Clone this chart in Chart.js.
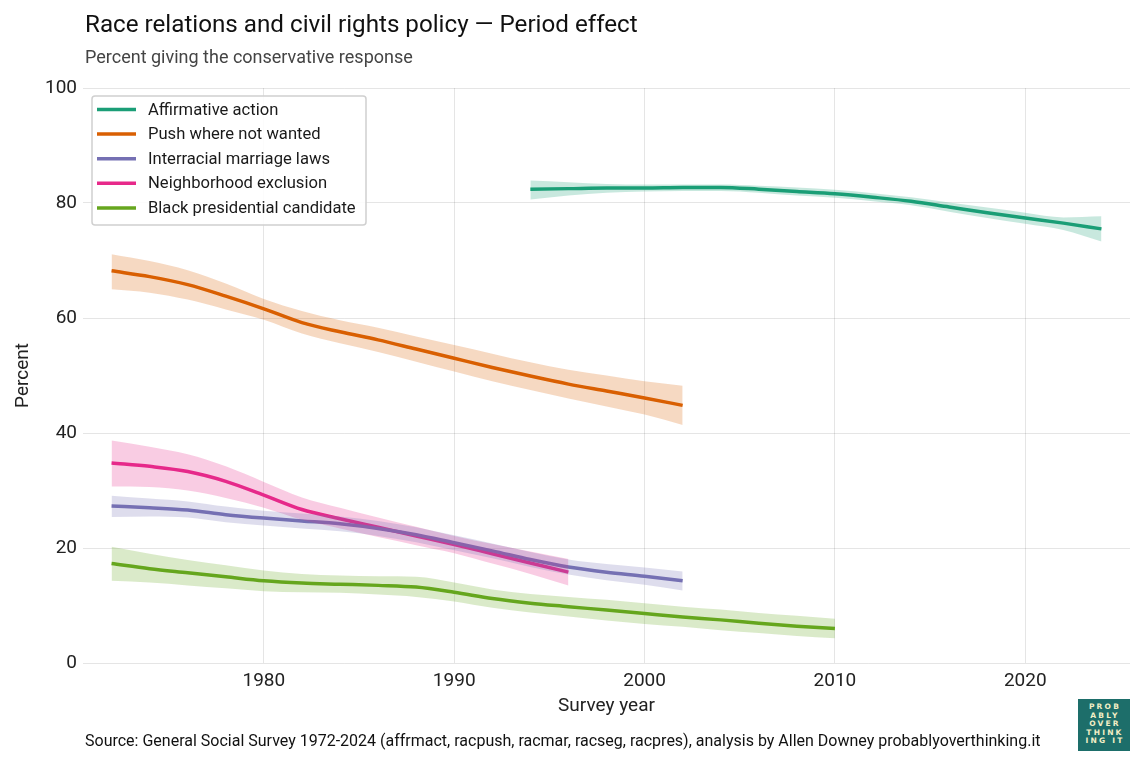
<!DOCTYPE html>
<html>
<head>
<meta charset="utf-8">
<script src="https://cdn.jsdelivr.net/npm/chart.js@4.4.1/dist/chart.umd.min.js"></script>
<style>
  body { margin: 0; background: #fff; }
  #wrap { position: relative; width: 1145px; height: 766px; overflow: hidden; font-family: Roboto, "Noto Sans", sans-serif; }
  #c { position: absolute; left: 0; top: 0; }
  #title { position: absolute; left: 85px; top: 10px; font-size: 24.2px; color: #111; white-space: nowrap; }
  #subtitle { position: absolute; left: 85px; top: 46px; font-size: 18px; color: #444; white-space: nowrap; }
  #source { position: absolute; left: 85px; top: 731px; font-size: 16px; color: #111; white-space: nowrap; }
  #logo { position: absolute; left: 1078px; top: 699px; width: 52px; height: 52px; background: #1d6e6a;
          color: #f3efc6; font-family: "DejaVu Sans", sans-serif; font-weight: bold; font-size: 7.5px;
          line-height: 8.6px; letter-spacing: 2.2px; text-align: center; box-sizing: border-box; padding-top: 4px; padding-left: 2px; }
</style>
</head>
<body>
<div id="wrap">
  <canvas id="c" width="1145" height="766"></canvas>
  <div id="title">Race relations and civil rights policy — Period effect</div>
  <div id="subtitle">Percent giving the conservative response</div>
  <div id="source">Source: General Social Survey 1972-2024 (affrmact, racpush, racmar, racseg, racpres), analysis by Allen Downey probablyoverthinking.it</div>
  <div id="logo">PROB<br>ABLY<br>OVER<br>THINK<br>ING IT</div>
</div>
<script>
// ---- Data ----
const seriesNames = ["Affirmative action", "Push where not wanted", "Interracial marriage laws", "Neighborhood exclusion", "Black presidential candidate"];

const affYears = [1994, 1996, 1998, 2000, 2002, 2004, 2006, 2008, 2010, 2012, 2014, 2016, 2018, 2020, 2022, 2024];
const affMid   = [82.4, 82.5, 82.6, 82.6, 82.7, 82.7, 82.4, 82.0, 81.6, 81.0, 80.3, 79.3, 78.3, 77.4, 76.5, 75.5];
const affHigh  = [83.9, 83.6, 83.3, 83.2, 83.2, 83.2, 83.0, 82.7, 82.3, 81.7, 81.0, 80.1, 79.2, 78.3, 77.5, 77.7];
const affLow   = [80.6, 81.3, 81.8, 82.0, 82.1, 82.1, 81.8, 81.3, 80.9, 80.3, 79.6, 78.5, 77.4, 76.4, 75.3, 73.3];

const pushYears = [1972, 1974, 1976, 1978, 1980, 1982, 1984, 1986, 1988, 1990, 1992, 1994, 1996, 1998, 2000, 2002];
const pushMid   = [68.2, 67.2, 65.8, 63.8, 61.6, 59.2, 57.6, 56.2, 54.6, 53.0, 51.4, 49.9, 48.5, 47.3, 46.1, 44.8];
const pushHigh  = [71.1, 69.9, 68.3, 66.0, 63.3, 61.2, 59.6, 58.3, 56.8, 55.3, 53.8, 52.3, 51.0, 50.0, 49.0, 48.2];
const pushLow   = [65.0, 64.4, 63.2, 61.5, 59.7, 57.3, 55.6, 54.1, 52.4, 50.7, 49.0, 47.5, 46.0, 44.6, 43.2, 41.4];

const marYears = [1972, 1974, 1976, 1978, 1980, 1982, 1984, 1986, 1988, 1990, 1992, 1994, 1996, 1998, 2000, 2002];
const marMid   = [27.3, 27.0, 26.6, 25.8, 25.2, 24.7, 24.2, 23.4, 22.3, 20.9, 19.5, 18.0, 16.7, 15.8, 15.1, 14.3];
const marHigh  = [29.1, 28.6, 28.1, 27.2, 26.5, 26.0, 25.5, 24.7, 23.6, 22.2, 20.8, 19.3, 18.0, 17.2, 16.6, 15.9];
const marLow   = [25.4, 25.5, 25.3, 24.5, 23.9, 23.4, 22.9, 22.1, 21.0, 19.6, 18.2, 16.7, 15.4, 14.4, 13.6, 12.6];

const segYears = [1972, 1974, 1976, 1978, 1980, 1982, 1984, 1986, 1988, 1990, 1992, 1994, 1996];
const segMid   = [34.8, 34.2, 33.3, 31.6, 29.2, 26.7, 25.1, 23.6, 22.1, 20.6, 19.0, 17.4, 15.8];
const segHigh  = [38.7, 37.6, 36.3, 34.2, 31.5, 28.8, 27.0, 25.3, 23.7, 22.1, 20.7, 19.4, 18.1];
const segLow   = [30.7, 30.6, 30.0, 28.7, 27.0, 24.9, 23.4, 21.9, 20.5, 19.1, 17.3, 15.5, 13.5];

const presYears = [1972, 1974, 1976, 1978, 1980, 1982, 1984, 1986, 1988, 1990, 1992, 1994, 1996, 1998, 2000, 2002, 2004, 2006, 2008, 2010];
const presMid   = [17.3, 16.4, 15.7, 15.0, 14.3, 13.9, 13.7, 13.5, 13.2, 12.3, 11.2, 10.4, 9.8, 9.2, 8.6, 8.0, 7.5, 6.9, 6.4, 6.0];
const presHigh  = [20.2, 19.0, 17.9, 17.0, 16.1, 15.5, 15.2, 15.1, 15.0, 14.0, 12.8, 12.0, 11.5, 11.0, 10.4, 9.8, 9.3, 8.7, 8.2, 7.7];
const presLow   = [14.3, 14.0, 13.5, 13.0, 12.5, 12.3, 12.2, 11.9, 11.5, 10.7, 9.6, 8.8, 8.1, 7.4, 6.8, 6.3, 5.7, 5.2, 4.7, 4.3];

const xTicks = [1980, 1990, 2000, 2010, 2020];
const yTicks = [0, 20, 40, 60, 80, 100];

// ---- Styling ----
const colors = ["#1b9e77", "#d95f02", "#7570b3", "#e7298a", "#66a61e"];
const bandAlpha = 0.24;

function hexToRgba(hex, a) {
  const n = parseInt(hex.slice(1), 16);
  return `rgba(${(n >> 16) & 255},${(n >> 8) & 255},${n & 255},${a})`;
}
const pts = (xs, ys) => xs.map((x, i) => ({ x: x, y: ys[i] }));

const groups = [
  [affYears, affMid, affHigh, affLow],
  [pushYears, pushMid, pushHigh, pushLow],
  [marYears, marMid, marHigh, marLow],
  [segYears, segMid, segHigh, segLow],
  [presYears, presMid, presHigh, presLow]
];

const datasets = [];
groups.forEach((g, i) => {
  const [xs, mid, hi, lo] = g;
  datasets.push({ label: "_lo" + i, data: pts(xs, lo), borderWidth: 0, pointRadius: 0, fill: false,
                  borderColor: "rgba(0,0,0,0)", cubicInterpolationMode: "monotone", isBand: true });
  datasets.push({ label: "_hi" + i, data: pts(xs, hi), borderWidth: 0, pointRadius: 0, fill: "-1",
                  borderColor: "rgba(0,0,0,0)", backgroundColor: hexToRgba(colors[i], bandAlpha),
                  cubicInterpolationMode: "monotone", isBand: true });
});
groups.forEach((g, i) => {
  const [xs, mid] = g;
  datasets.push({ label: seriesNames[i], data: pts(xs, mid), borderColor: colors[i], backgroundColor: colors[i],
                  borderWidth: 3.5, pointRadius: 0, fill: false, cubicInterpolationMode: "monotone",
                  borderCapStyle: "butt", isLine: true });
});

const legendBox = {
  id: "legendBox",
  afterDatasetsDraw(chart) {
    const ctx = chart.ctx, ca = chart.chartArea;
    const items = chart.data.datasets.filter(d => d.isLine);
    const x0 = ca.left + 9, y0 = ca.top + 8, w = 274, h = 129;
    ctx.save();
    ctx.beginPath();
    ctx.roundRect(x0, y0, w, h, 3);
    ctx.fillStyle = "rgba(255,255,255,0.85)";
    ctx.fill();
    ctx.lineWidth = 1.5;
    ctx.strokeStyle = "#d0d0d0";
    ctx.stroke();
    ctx.font = "16.6px Roboto, 'Noto Sans', sans-serif";
    ctx.textBaseline = "middle";
    items.forEach((d, i) => {
      const cy = y0 + 13.5 + i * 24.6;
      ctx.beginPath();
      ctx.moveTo(x0 + 5, cy);
      ctx.lineTo(x0 + 44, cy);
      ctx.lineWidth = 3.5;
      ctx.strokeStyle = d.borderColor;
      ctx.stroke();
      ctx.fillStyle = "#1a1a1a";
      ctx.fillText(d.label, x0 + 56, cy + 1);
    });
    ctx.restore();
  }
};

function draw() {
  new Chart(document.getElementById("c"), {
    type: "line",
    data: { datasets: datasets },
    plugins: [legendBox],
    options: {
      responsive: false,
      animation: false,
      events: [],
      layout: { padding: { top: 88, right: 15, bottom: 43, left: 0 } },
      plugins: { legend: { display: false }, tooltip: { enabled: false }, title: { display: false } },
      scales: {
        x: {
          type: "linear", min: 1970.5, max: 2025.5,
          afterBuildTicks: (axis) => { axis.ticks = xTicks.map(v => ({ value: v })); },
          afterFit: (scale) => { scale.height = 60; },
          grid: { color: "rgba(0,0,0,0.1)", lineWidth: 1, drawTicks: false },
          border: { display: false },
          ticks: { padding: 7, color: "#222", font: { family: "Roboto", size: 19 }, maxRotation: 0, callback: v => String(v) },
          title: { display: true, text: "Survey year", color: "#222", font: { family: "Roboto", size: 19 }, padding: { top: 2, bottom: 5 } }
        },
        y: {
          min: 0, max: 100,
          afterBuildTicks: (axis) => { axis.ticks = yTicks.map(v => ({ value: v })); },
          afterFit: (scale) => { scale.width = 83; },
          grid: { color: "rgba(0,0,0,0.1)", lineWidth: 1, drawTicks: false },
          border: { display: false },
          ticks: { padding: 6, color: "#222", font: { family: "Roboto", size: 19 } },
          title: { display: true, text: "Percent", color: "#222", font: { family: "Roboto", size: 19 }, padding: { top: 12, bottom: 0 } }
        }
      }
    }
  });
}

Promise.all([document.fonts.load("19px Roboto"), document.fonts.load("15px Roboto")])
  .catch(() => {}).then(draw);
</script>
</body>
</html>
